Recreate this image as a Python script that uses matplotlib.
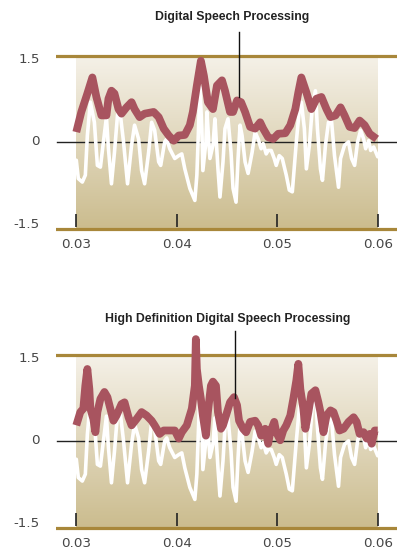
import numpy as np
import matplotlib
matplotlib.use("Agg")
import matplotlib.pyplot as plt

# ---------------- data ----------------
titles = ["Digital Speech Processing", "High Definition Digital Speech Processing"]
x_ticks = [0.03, 0.04, 0.05, 0.06]
x_tick_labels = ["0.03", "0.04", "0.05", "0.06"]
y_ticks = [1.5, 0, -1.5]
y_tick_labels = ["1.5", "0", "-1.5"]

# speech waveform (white, same in both panels)
wave_x = [0.0300, 0.0302, 0.0306, 0.0309, 0.0311, 0.0314, 0.0318, 0.0321, 0.0324, 0.0327,
          0.0330, 0.0332, 0.0335, 0.0338, 0.0341, 0.0343, 0.0347, 0.0351, 0.0355, 0.0358,
          0.0362, 0.0365, 0.0368, 0.0372, 0.0375, 0.0378, 0.0382, 0.0384, 0.0388, 0.0390,
          0.0393, 0.0398, 0.0402, 0.0405, 0.0408, 0.0413, 0.0418, 0.0420, 0.0422, 0.0423,
          0.0425, 0.0426, 0.0429, 0.0430, 0.0433, 0.0436, 0.0438, 0.0441, 0.0443, 0.0446,
          0.0448, 0.0451, 0.0454, 0.0456, 0.0459, 0.0461, 0.0463, 0.0465, 0.0468, 0.0471,
          0.0475, 0.0478, 0.0481, 0.0484, 0.0486, 0.0489, 0.0491, 0.0494, 0.0497, 0.0499,
          0.0502, 0.0505, 0.0509, 0.0512, 0.0515, 0.0519, 0.0522, 0.0524, 0.0527, 0.0529,
          0.0532, 0.0535, 0.0538, 0.0540, 0.0543, 0.0545, 0.0548, 0.0551, 0.0554, 0.0557,
          0.0561, 0.0563, 0.0567, 0.0571, 0.0574, 0.0577, 0.0580, 0.0583, 0.0586, 0.0588,
          0.0591, 0.0593, 0.0596, 0.0600]
wave_y = [-0.31, -0.63, -0.69, -0.57, 0.12, 0.70, 0.35, -0.40, -0.43, 0.01,
          0.44, -0.11, -0.72, -0.17, 0.47, 0.61, 0.01, -0.72, -0.05, 0.30,
          0.06, -0.49, -0.72, -0.17, 0.35, 0.21, -0.34, -0.40, 0.01, 0.06,
          -0.11, -0.28, -0.23, -0.20, -0.46, -0.80, -1.01, -0.57, 0.41, 0.96,
          0.24, -0.49, 0.01, 0.53, -0.28, -0.05, 0.41, -0.46, -0.95, -0.34,
          0.24, 0.41, -0.17, -0.80, -1.04, -0.28, 0.30, 0.12, -0.34, -0.54,
          -0.17, 0.18, 0.06, -0.11, -0.02, -0.20, -0.14, -0.14, -0.28, -0.40,
          -0.23, -0.28, -0.57, -0.83, -0.86, 0.01, 0.58, 0.70, 0.24, -0.46,
          -0.05, 0.64, 0.90, 0.24, -0.46, -0.66, -0.05, 0.35, 0.38, -0.23,
          -0.78, -0.28, -0.05, 0.01, -0.28, -0.40, 0.01, 0.21, 0.06, -0.11,
          0.03, -0.14, -0.08, -0.25]

# envelope, standard processing (top panel)
env1_x = [0.0300, 0.0305, 0.0311, 0.0316, 0.0320, 0.0325, 0.0330, 0.0332, 0.0335, 0.0338,
          0.0342, 0.0345, 0.0350, 0.0355, 0.0358, 0.0363, 0.0368, 0.0377, 0.0382, 0.0387,
          0.0392, 0.0397, 0.0402, 0.0408, 0.0413, 0.0416, 0.0420, 0.0424, 0.0427, 0.0431,
          0.0436, 0.0440, 0.0445, 0.0448, 0.0453, 0.0456, 0.0460, 0.0464, 0.0468, 0.0473,
          0.0478, 0.0483, 0.0486, 0.0491, 0.0496, 0.0501, 0.0508, 0.0513, 0.0518, 0.0521,
          0.0524, 0.0529, 0.0534, 0.0539, 0.0544, 0.0549, 0.0553, 0.0558, 0.0563, 0.0567,
          0.0572, 0.0577, 0.0582, 0.0587, 0.0592, 0.0599]
env1_y = [0.18, 0.53, 0.85, 1.13, 0.79, 0.47, 0.47, 0.76, 0.90, 0.85,
          0.58, 0.50, 0.61, 0.70, 0.58, 0.44, 0.50, 0.53, 0.44, 0.24,
          0.12, 0.03, 0.12, 0.13, 0.30, 0.53, 0.99, 1.42, 1.16, 0.70,
          0.58, 0.99, 1.08, 0.90, 0.53, 0.53, 0.73, 0.70, 0.53, 0.27,
          0.24, 0.35, 0.24, 0.09, 0.06, 0.15, 0.16, 0.30, 0.58, 0.87,
          1.13, 0.87, 0.58, 0.76, 0.79, 0.58, 0.44, 0.47, 0.61, 0.47,
          0.27, 0.25, 0.38, 0.30, 0.15, 0.06]

# envelope, high definition processing (bottom panel)
env2_x = [0.0300, 0.0304, 0.0307, 0.0309, 0.0311, 0.0313, 0.0314, 0.0317, 0.0319, 0.0321,
          0.0324, 0.0328, 0.0331, 0.0333, 0.0337, 0.0340, 0.0345, 0.0348, 0.0352, 0.0355,
          0.0360, 0.0365, 0.0370, 0.0375, 0.0378, 0.0383, 0.0387, 0.0393, 0.0398, 0.0402,
          0.0405, 0.0410, 0.0415, 0.0418, 0.0419, 0.0420, 0.0422, 0.0424, 0.0426, 0.0429,
          0.0431, 0.0434, 0.0436, 0.0439, 0.0441, 0.0444, 0.0446, 0.0449, 0.0453, 0.0457,
          0.0460, 0.0462, 0.0466, 0.0469, 0.0473, 0.0478, 0.0481, 0.0484, 0.0488, 0.0491,
          0.0493, 0.0497, 0.0499, 0.0503, 0.0506, 0.0509, 0.0513, 0.0516, 0.0519, 0.0521,
          0.0523, 0.0526, 0.0528, 0.0531, 0.0534, 0.0538, 0.0541, 0.0543, 0.0546, 0.0549,
          0.0553, 0.0556, 0.0559, 0.0562, 0.0566, 0.0571, 0.0576, 0.0579, 0.0582, 0.0586,
          0.0589, 0.0592, 0.0594, 0.0597, 0.0600]
env2_y = [0.28, 0.51, 0.57, 0.97, 1.26, 0.91, 0.57, 0.39, 0.16, 0.51,
          0.74, 0.86, 0.77, 0.63, 0.36, 0.45, 0.65, 0.68, 0.42, 0.28,
          0.39, 0.51, 0.45, 0.36, 0.28, 0.13, 0.19, 0.19, 0.19, 0.05,
          0.16, 0.28, 0.57, 0.97, 1.78, 1.26, 0.97, 0.74, 0.45, 0.10,
          0.51, 0.97, 1.04, 0.97, 0.51, 0.22, 0.28, 0.45, 0.68, 0.77,
          0.63, 0.36, 0.22, 0.16, 0.34, 0.36, 0.28, 0.10, 0.22, -0.04,
          0.16, 0.34, 0.16, 0.02, 0.19, 0.28, 0.45, 0.74, 1.06, 1.35,
          0.91, 0.57, 0.22, 0.51, 0.83, 0.89, 0.68, 0.51, 0.16, 0.45,
          0.54, 0.51, 0.36, 0.19, 0.22, 0.34, 0.42, 0.34, 0.13, 0.16,
          0.05, 0.13, -0.04, 0.19, 0.19]

envelopes = [(env1_x, env1_y), (env2_x, env2_y)]
callout_x = [0.0462, 0.0458]
callout_y = [0.79, 0.75]

# ---------------- style ----------------
GOLD = "#a8873a"
RED = "#a8545f"
TEXT = "#474747"
top_c = np.array([245, 241, 232]) / 255
bot_c = np.array([203, 188, 142]) / 255
grad = np.linspace(0, 1, 256)[:, None, None] * (bot_c - top_c) + top_c

W, H = 397, 551
fig = plt.figure(figsize=(W / 100, H / 100), dpi=100)

xl = (0.02798, 0.06192)
yl = (-2.081, 2.478)
ax_h = 262
panels_top_px = [0, 299]

for i, top_px in enumerate(panels_top_px):
    ax = fig.add_axes([56 / W, 1 - (top_px + ax_h) / H, (W - 56) / W, ax_h / H])
    ax.set_xlim(*xl)
    ax.set_ylim(*yl)
    ax.axis("off")

    ax.imshow(grad, extent=[x_ticks[0], x_ticks[-1], -1.5, 1.5], aspect="auto",
              origin="upper", zorder=0, interpolation="bilinear")
    ax.axhline(1.5, color=GOLD, lw=2.3, zorder=2)
    ax.axhline(-1.5, color=GOLD, lw=2.3, zorder=2)
    ax.axhline(0, xmin=0.003, color="#222222", lw=1.0, zorder=1)
    ax.vlines(x_ticks, -1.476, -1.245, color="#222222", lw=1.2, zorder=2)

    ax.plot(wave_x, wave_y, color="white", lw=2.6, zorder=3,
            solid_joinstyle="round", solid_capstyle="round")
    ex, ey = envelopes[i]
    ax.plot(ex, ey, color=RED, lw=5.6, zorder=4,
            solid_joinstyle="round", solid_capstyle="butt")

    for xt, lab in zip(x_ticks, x_tick_labels):
        ax.text(xt, -1.785, lab, ha="center", va="center", fontsize=9.7,
                color=TEXT, family="DejaVu Sans", clip_on=False)
    for yv, lab, ypos in zip(y_ticks, y_tick_labels, [1.435, 0.01, -1.42]):
        ax.text(0.02639, ypos, lab, ha="right", va="center", fontsize=9.7,
                color=TEXT, family="DejaVu Sans", clip_on=False)

    title_x = [0.04550, 0.04510][i]
    title_y = [2.182, 2.13][i]
    ax.text(title_x, title_y, titles[i], ha="center", va="center", fontsize=8.8,
            fontweight="bold", color="#222222",
            family=["Liberation Sans", "DejaVu Sans"], clip_on=False)
    ax.plot([callout_x[i], callout_x[i]], [1.92, callout_y[i]], color="#111111",
            lw=1.0, zorder=6)

fig.savefig("out.png", dpi=100)
